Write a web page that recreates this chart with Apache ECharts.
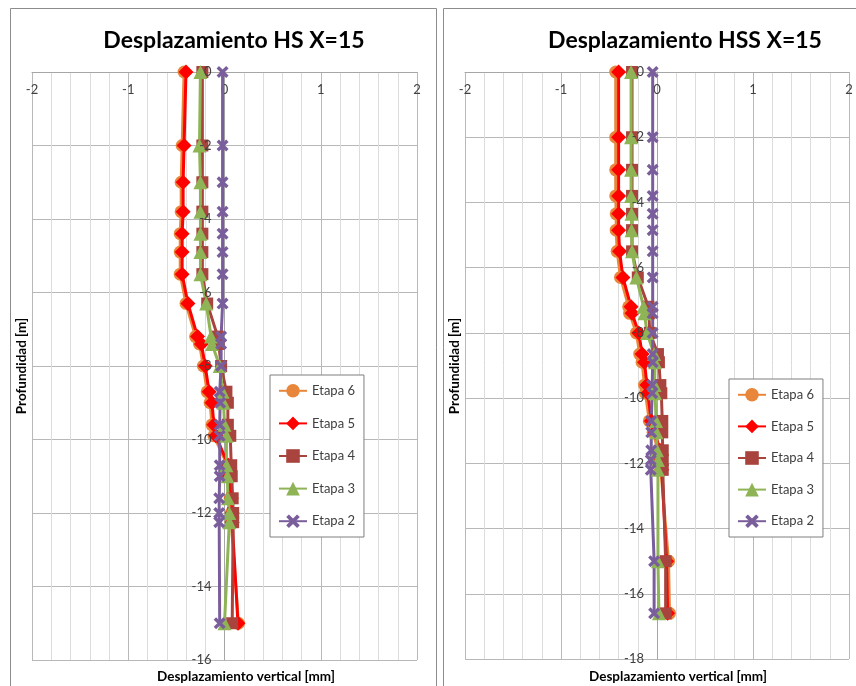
<!DOCTYPE html>
<html>
<head>
<meta charset="utf-8">
<script src="https://cdn.jsdelivr.net/npm/echarts@6/dist/echarts.min.js"></script>
<style>
  html, body { margin: 0; padding: 0; background: #fff; }
  #chart { width: 856px; height: 686px; }
</style>
</head>
<body>
<div id="chart"></div>
<script>
// Depth of each measuring point [m]
const depthHS  = [0, -2, -3, -3.8, -4.4, -4.9, -5.5, -6.3, -7.2, -7.4, -8, -8.7, -9, -9.6, -9.9, -10.7, -11, -11.6, -12, -12.25, -15];
const depthHSS = [0, -2, -3, -3.8, -4.35, -4.85, -5.5, -6.3, -7.2, -7.4, -8, -8.65, -8.9, -9.6, -9.85, -10.7, -11.05, -11.6, -11.9, -12.2, -15, -16.6];

// Vertical displacement [mm], model HS
const hsEtapa6 = [-0.42, -0.44, -0.45, -0.45, -0.46, -0.46, -0.46, -0.40, -0.30, -0.26, -0.22, -0.18, -0.15, -0.13, -0.11, 0.03, 0.04, 0.06, 0.07, 0.07, 0.145];
const hsEtapa5 = [-0.40, -0.42, -0.43, -0.43, -0.44, -0.44, -0.44, -0.38, -0.28, -0.24, -0.20, -0.16, -0.13, -0.11, -0.09, 0.04, 0.05, 0.07, 0.08, 0.08, 0.14];
const hsEtapa4 = [-0.23, -0.23, -0.23, -0.23, -0.23, -0.23, -0.23, -0.18, -0.07, -0.06, -0.035, 0.02, 0.035, 0.035, 0.06, 0.07, 0.075, 0.085, 0.09, 0.09, 0.08];
const hsEtapa3 = [-0.25, -0.26, -0.25, -0.25, -0.25, -0.25, -0.25, -0.19, -0.14, -0.13, -0.05, -0.02, -0.01, 0.0, 0.02, 0.02, 0.03, 0.035, 0.05, 0.05, 0.0];
const hsEtapa2 = [-0.02, -0.02, -0.02, -0.02, -0.02, -0.02, -0.02, -0.02, -0.035, -0.035, -0.035, -0.05, -0.045, -0.05, -0.05, -0.05, -0.05, -0.055, -0.055, -0.055, -0.05];

// Vertical displacement [mm], model HSS
const hssEtapa6 = [-0.43, -0.43, -0.43, -0.43, -0.425, -0.425, -0.415, -0.38, -0.295, -0.285, -0.215, -0.18, -0.155, -0.13, -0.12, -0.08, -0.04, 0.01, 0.03, 0.04, 0.12, 0.13];
const hssEtapa5 = [-0.40, -0.40, -0.40, -0.40, -0.40, -0.40, -0.39, -0.355, -0.27, -0.26, -0.19, -0.155, -0.13, -0.105, -0.095, -0.06, -0.02, 0.03, 0.04, 0.05, 0.10, 0.11];
const hssEtapa4 = [-0.26, -0.26, -0.26, -0.26, -0.26, -0.26, -0.26, -0.20, -0.09, -0.085, -0.075, 0.01, 0.02, 0.035, 0.045, 0.055, 0.055, 0.06, 0.06, 0.06, 0.09, 0.09];
const hssEtapa3 = [-0.27, -0.27, -0.27, -0.27, -0.265, -0.265, -0.26, -0.215, -0.14, -0.13, -0.105, -0.03, -0.02, -0.025, -0.02, -0.01, -0.005, 0.0, 0.01, 0.01, 0.01, 0.02];
const hssEtapa2 = [-0.045, -0.045, -0.045, -0.045, -0.045, -0.045, -0.045, -0.045, -0.045, -0.045, -0.045, -0.045, -0.045, -0.05, -0.05, -0.06, -0.06, -0.06, -0.065, -0.065, -0.03, -0.03];

const stageNames = ['Etapa 6', 'Etapa 5', 'Etapa 4', 'Etapa 3', 'Etapa 2'];
const xTicks = { min: -2, max: 2, interval: 1 };
const depthMins = [-16, -18];
const titles = ['Desplazamiento HS X=15', 'Desplazamiento HSS X=15'];
const xName = 'Desplazamiento vertical [mm]';
const yName = 'Profundidad [m]';

const FONT = 'Lato';
const crossPath = 'path://M2,0 L5,3 L8,0 L10,2 L7,5 L10,8 L8,10 L5,7 L2,10 L0,8 L3,5 L0,2 Z';

const stageStyle = {
  'Etapa 6': { color: '#E8873C', symbol: 'circle',   size: 13 },
  'Etapa 5': { color: '#FF0000', symbol: 'diamond',  size: 15 },
  'Etapa 4': { color: '#A8443D', symbol: 'rect',     size: 12 },
  'Etapa 3': { color: '#8EB456', symbol: 'triangle', size: 14 },
  'Etapa 2': { color: '#7A5E9C', symbol: crossPath,  size: 12 }
};

// Plot-area geometry of the two panels (pixels)
const grids = [
  { left: 32, top: 72, width: 385, height: 588 },
  { left: 465, top: 72, width: 384, height: 587 }
];

function stageSeries(name, xs, depths, idx) {
  const st = stageStyle[name];
  return {
    type: 'line',
    name: name,
    xAxisIndex: idx,
    yAxisIndex: idx,
    data: depths.map((d, i) => [xs[i], d]),
    symbol: st.symbol,
    symbolSize: st.size,
    showAllSymbol: true,
    lineStyle: { width: 3, color: st.color },
    itemStyle: { color: st.color },
    emphasis: { disabled: true },
    animation: false
  };
}

const hsSets  = [hsEtapa6, hsEtapa5, hsEtapa4, hsEtapa3, hsEtapa2];
const hssSets = [hssEtapa6, hssEtapa5, hssEtapa4, hssEtapa3, hssEtapa2];

const series = [];
stageNames.forEach((n, i) => series.push(stageSeries(n, hsSets[i], depthHS, 0)));
stageNames.forEach((n, i) => series.push(stageSeries(n, hssSets[i], depthHSS, 1)));

// The horizontal axis runs along depth 0, i.e. the top edge of the plot area,
// with its labels hanging inside the plot.
function xAxisDef(gridIndex) {
  return {
    type: 'value', gridIndex: gridIndex,
    min: xTicks.min, max: xTicks.max, interval: xTicks.interval,
    position: 'top',
    axisLine: { show: true, onZero: false, lineStyle: { color: '#a6a6a6', width: 1 } },
    axisTick: { show: false },
    axisLabel: { show: true, inside: true, margin: 11, color: '#404040', fontSize: 13, fontFamily: FONT, showMinLabel: true, showMaxLabel: true },
    splitLine: { show: true, lineStyle: { color: '#b8b8b8', width: 1 } },
    minorTick: { show: false, splitNumber: 5 },
    minorSplitLine: { show: true, lineStyle: { color: '#dcdcdc', width: 1 } }
  };
}

// Offset that moves a left-hand depth axis onto displacement 0.
function zeroOffset(gridIndex) {
  const g = grids[gridIndex];
  return g.width * (0 - xTicks.min) / (xTicks.max - xTicks.min);
}

// Depth axis carrying the gridlines and the line at displacement 0 (under the data).
function yAxisDef(gridIndex) {
  return {
    type: 'value', gridIndex: gridIndex,
    min: depthMins[gridIndex], max: 0, interval: 2,
    position: 'left',
    offset: -zeroOffset(gridIndex),
    axisLine: { show: true, onZero: false, lineStyle: { color: '#a6a6a6', width: 1 } },
    axisTick: { show: false },
    axisLabel: { show: false },
    splitLine: { show: true, lineStyle: { color: '#b8b8b8', width: 1 } }
  };
}

// Same depth scale, only its tick labels, drawn above the data.
function yLabelAxisDef(gridIndex) {
  return {
    type: 'value', gridIndex: gridIndex,
    min: depthMins[gridIndex], max: 0, interval: 2,
    position: 'left',
    offset: -zeroOffset(gridIndex),
    z: 10,
    axisLine: { show: false, onZero: false },
    axisTick: { show: false },
    axisLabel: { show: true, margin: 13, color: '#404040', fontSize: 13, fontFamily: FONT, showMinLabel: true, showMaxLabel: true },
    splitLine: { show: false }
  };
}

function legendDef(left, top, gap) {
  return {
    data: stageNames,
    orient: 'vertical',
    left: left, top: top,
    itemWidth: 28, itemHeight: 17, itemGap: gap,
    padding: [9, 9, 9, 8],
    backgroundColor: '#ffffff',
    borderColor: '#7f7f7f', borderWidth: 1,
    selectedMode: false,
    textStyle: { fontSize: 13, color: '#404040', fontFamily: FONT }
  };
}

const chart = echarts.init(document.getElementById('chart'), null, { renderer: 'canvas' });

chart.setOption({
  animation: false,
  backgroundColor: '#ffffff',
  title: [
    { text: titles[0], left: 229, top: 24, textAlign: 'center',
      textStyle: { fontFamily: FONT, fontWeight: 'bold', fontSize: 23, color: '#000' } },
    { text: titles[1], left: 680, top: 24, textAlign: 'center',
      textStyle: { fontFamily: FONT, fontWeight: 'bold', fontSize: 23, color: '#000' } }
  ],
  grid: grids,
  xAxis: [xAxisDef(0), xAxisDef(1)],
  yAxis: [yAxisDef(0), yAxisDef(1), yLabelAxisDef(0), yLabelAxisDef(1)],
  legend: [legendDef(270, 375, 19), legendDef(729, 379, 18)],
  graphic: [
    { type: 'rect', shape: { x: 10.5, y: 8.5, width: 426, height: 700 }, style: { fill: null, stroke: '#8c8c8c', lineWidth: 1 }, z: -10, silent: true },
    { type: 'rect', shape: { x: 443.5, y: 8.5, width: 450, height: 700 }, style: { fill: null, stroke: '#8c8c8c', lineWidth: 1 }, z: -10, silent: true },
    { type: 'text', x: 246, y: 677, style: { text: xName, font: 'bold 13.5px ' + FONT, fill: '#000', align: 'center', verticalAlign: 'middle' }, silent: true },
    { type: 'text', x: 678, y: 677, style: { text: xName, font: 'bold 13.5px ' + FONT, fill: '#000', align: 'center', verticalAlign: 'middle' }, silent: true },
    { type: 'text', x: 22, y: 366, rotation: Math.PI / 2, style: { text: yName, font: 'bold 13.5px ' + FONT, fill: '#000', align: 'center', verticalAlign: 'middle' }, silent: true },
    { type: 'text', x: 455, y: 366, rotation: Math.PI / 2, style: { text: yName, font: 'bold 13.5px ' + FONT, fill: '#000', align: 'center', verticalAlign: 'middle' }, silent: true }
  ],
  series: series
});
</script>
</body>
</html>
